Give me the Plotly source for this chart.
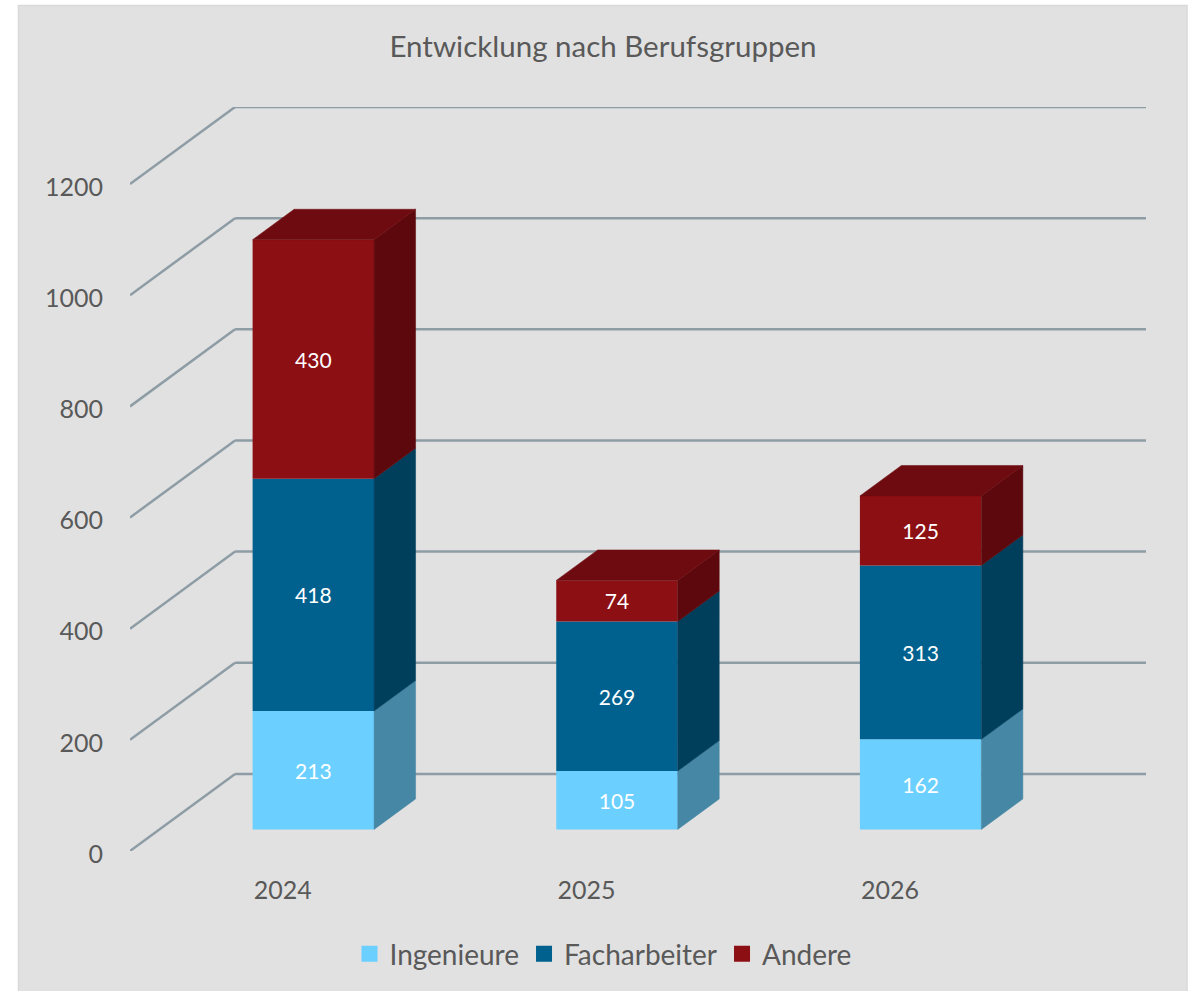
import plotly.graph_objects as go

categories = ["2024", "2025", "2026"]
series_names = ["Ingenieure", "Facharbeiter", "Andere"]
ingenieure = [213, 105, 162]
facharbeiter = [418, 269, 313]
andere = [430, 74, 125]
y_ticks = [0, 200, 400, 600, 800, 1000, 1200]

series = [ingenieure, facharbeiter, andere]
front_colors = ["#6BD0FF", "#00618F", "#8C0F14"]
side_colors = ["#4587A5", "#003F5C", "#5C080C"]
top_color = "#6E0B10"
grid_color = "#8E9DA5"
text_color = "#595959"
font = "Lato"

# oblique projection of the depth axis, in axis units
DX = 0.346
DY = 138.7
D0, D1 = 0.3, 0.695
BAR_W = 0.4
BAR_DROP = 2.7  # the bars sit slightly lower than the wall's depth scale gives
idx = list(range(len(categories)))
xr = [-0.5, 2.5 + DX]
yr = [0, 1200 + DY]


def proj(x, v, d):
    return x + d * DX, v + d * DY


def bar_proj(x, v, d):
    px, py = proj(x, v, d)
    return px, py - BAR_DROP


fig = go.Figure()

# front faces
cum = [0] * len(categories)
for name, vals, col in zip(series_names, series, front_colors):
    fig.add_trace(go.Bar(
        x=[bar_proj(i, 0, D0)[0] for i in idx],
        y=vals,
        base=[bar_proj(0, c, D0)[1] for c in cum],
        width=BAR_W,
        name=name,
        legendgroup=name,
        showlegend=False,
        marker=dict(color=col, line=dict(width=0)),
        text=[str(v) for v in vals],
        textposition="inside",
        insidetextanchor="middle",
        textangle=0,
        insidetextfont=dict(color="white", size=21, family=font),
        hoverinfo="skip",
    ))
    cum = [c + v for c, v in zip(cum, vals)]


def polygon(corners, color):
    xs = [c[0] for c in corners] + [corners[0][0]]
    ys = [c[1] for c in corners] + [corners[0][1]]
    fig.add_trace(go.Scatter(
        x=xs, y=ys, mode="lines", fill="toself", fillcolor=color,
        line=dict(color=color, width=0.5), showlegend=False, hoverinfo="skip",
    ))


# side faces and the top of each stack
for i in idx:
    r = i + BAR_W / 2
    l = i - BAR_W / 2
    c = 0
    for vals, col in zip(series, side_colors):
        v0, v1 = c, c + vals[i]
        polygon([bar_proj(r, v0, D0), bar_proj(r, v0, D1), bar_proj(r, v1, D1), bar_proj(r, v1, D0)], col)
        c = v1
    polygon([bar_proj(l, c, D0), bar_proj(r, c, D0), bar_proj(r, c, D1), bar_proj(l, c, D1)], top_color)

# legend entries
for name, col in zip(series_names, front_colors):
    fig.add_trace(go.Scatter(
        x=[None], y=[None], mode="markers", name=name, legendgroup=name,
        marker=dict(symbol="square", size=17, color=col),
    ))

# gridlines: front edge, along the side wall, then along the back wall
shapes = []
for t in y_ticks:
    x_back, y_back = proj(xr[0], t, 1)
    for a, b in [((xr[0], t), (x_back, y_back)), ((x_back, y_back), (xr[1], y_back))]:
        shapes.append(dict(type="line", xref="x", yref="y", layer="below",
                           x0=a[0], y0=a[1], x1=b[0], y1=b[1],
                           line=dict(color=grid_color, width=2.5)))

# chart panel
L, T, W, H = 130, 107, 1016, 744
shapes.insert(0, dict(type="rect", xref="paper", yref="paper", layer="below",
                      x0=(18.5 - L) / W, x1=(1187 - L) / W,
                      y0=1 - (1000 - T) / H, y1=1 - (5.5 - T) / H,
                      fillcolor="#E1E1E1", line=dict(color="#D9D9D9", width=1.5)))

fig.update_layout(
    width=1201, height=991,
    margin=dict(l=L, r=1201 - L - W, t=T, b=991 - T - H),
    paper_bgcolor="white", plot_bgcolor="rgba(0,0,0,0)",
    font=dict(family=font, color=text_color),
    barmode="overlay",
    shapes=shapes,
    title=dict(text="Entwicklung nach Berufsgruppen", x=603 / 1201, xanchor="center",
               y=1 - 47 / 991, yanchor="middle", font=dict(size=29.5, color=text_color, family=font)),
    xaxis=dict(range=xr, tickmode="array", tickvals=idx, ticktext=categories, showgrid=False,
               zeroline=False, showline=False, ticks="outside", ticklen=17, tickcolor="rgba(0,0,0,0)",
               tickfont=dict(size=25, color=text_color), ticklabelshift=1),
    yaxis=dict(range=yr, tickmode="array", tickvals=y_ticks, showgrid=False, zeroline=False,
               showline=False, ticks="outside", ticklen=21, tickcolor="rgba(0,0,0,0)",
               tickfont=dict(size=25, color=text_color), ticklabelshift=3),
    legend=dict(orientation="h", x=603 / 1201, xref="container", xanchor="center",
                y=1 - 954 / 991, yref="container", yanchor="middle",
                font=dict(size=28, color=text_color), bgcolor="rgba(0,0,0,0)",
                itemwidth=30),
)

fig.write_html("out.html", config=dict(displayModeBar=False),
               post_script="document.body.style.margin='0';")
